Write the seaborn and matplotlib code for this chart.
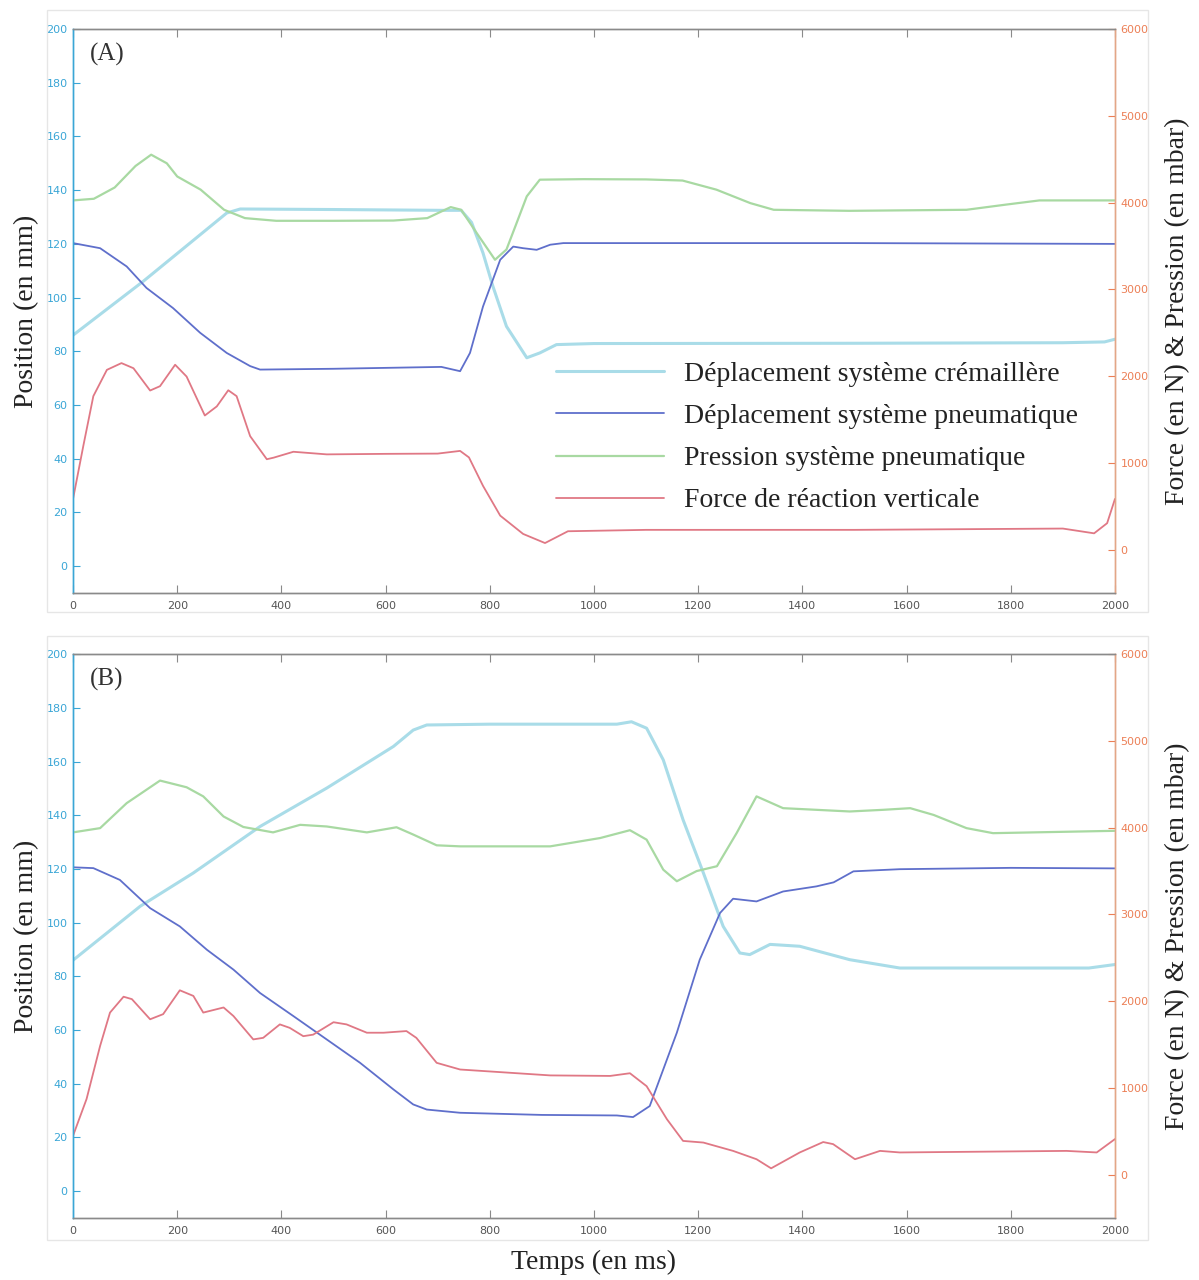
import matplotlib
matplotlib.use("Agg")
import matplotlib.pyplot as plt
import seaborn as sns
import pandas as pd
from matplotlib.patches import Rectangle

# ---------------- DATA ----------------
# Panel A
a_crem_t = [0, 135, 295, 321, 500, 707, 745, 765, 787, 806, 832, 871, 896, 928, 1000, 1500, 1900, 1980, 2000]
a_crem_v = [86, 106.1, 131.5, 133, 132.8, 132.5, 132.5, 128, 116.6, 104.2, 89.3, 77.6, 79.4, 82.5, 82.9, 83, 83.2, 83.5, 84.5]

a_pneu_t = [0, 52, 103, 141, 192, 244, 295, 340, 359, 500, 707, 743, 762, 787, 820, 845, 864, 890, 916, 941, 1500, 2000]
a_pneu_v = [120.3, 118.4, 111.6, 103.6, 96.1, 86.9, 79.4, 74.5, 73.2, 73.5, 74.2, 72.6, 79.4, 96.7, 114.1, 119, 118.4, 117.8, 119.7, 120.3, 120.3, 120]

a_pres_t = [0, 40, 80, 120, 150, 180, 200, 245, 290, 330, 390, 500, 615, 680, 725, 745, 775, 810, 832, 850, 871, 896,
            980, 1100, 1170, 1235, 1300, 1345, 1490, 1715, 1790, 1855, 2000]
a_pres_v = [4025, 4044, 4174, 4422, 4552, 4453, 4301, 4149, 3917, 3821, 3790, 3790, 3793, 3821, 3948, 3917, 3648, 3341,
            3459, 3741, 4072, 4264, 4270, 4267, 4254, 4149, 3994, 3917, 3905, 3917, 3976, 4025, 4025]

a_force_t = [0, 20, 39, 65, 93, 116, 148, 167, 196, 218, 253, 276, 298, 314, 340, 372, 385, 423, 487, 600, 700, 743,
             760, 787, 820, 864, 906, 950, 1100, 1500, 1900, 1960, 1985, 2000]
a_force_v = [584, 1203, 1769, 2072, 2150, 2091, 1834, 1884, 2131, 1995, 1546, 1651, 1837, 1769, 1308, 1042, 1060, 1128,
             1098, 1104, 1107, 1138, 1063, 735, 392, 181, 76, 212, 228, 228, 243, 188, 305, 584]

# Panel B
b_crem_t = [0, 129, 231, 359, 487, 615, 653, 679, 800, 1044, 1072, 1101, 1133, 1171, 1210, 1248, 1280, 1299, 1338,
            1395, 1491, 1587, 1950, 2000]
b_crem_v = [86, 106.1, 118.5, 135.8, 150.1, 165.6, 171.7, 173.6, 173.9, 173.9, 174.8, 172.4, 160.6, 138.3, 118.5,
            98.6, 88.7, 88.1, 91.9, 91.2, 86.2, 83.1, 83.1, 84.4]

b_pneu_t = [0, 39, 90, 148, 205, 257, 308, 359, 423, 487, 551, 615, 653, 679, 743, 900, 1044, 1075, 1107, 1159, 1203,
            1242, 1267, 1312, 1363, 1427, 1460, 1498, 1587, 1800, 2000]
b_pneu_v = [120.6, 120.3, 115.9, 105.4, 98.6, 89.9, 82.5, 73.8, 65.2, 56.5, 47.8, 37.9, 32.3, 30.4, 29.2, 28.4, 28.2,
            27.6, 31.7, 59, 86.2, 103.6, 108.9, 107.9, 111.6, 113.5, 115, 119.1, 119.9, 120.4, 120.2]

b_pres_t = [0, 52, 103, 167, 218, 250, 289, 327, 384, 436, 487, 564, 621, 653, 698, 743, 916, 1012, 1069, 1101, 1133,
            1159, 1197, 1236, 1274, 1312, 1363, 1491, 1555, 1607, 1652, 1715, 1766, 2000]
b_pres_v = [3945, 3994, 4282, 4542, 4465, 4360, 4128, 4007, 3945, 4032, 4013, 3945, 4004, 3920, 3796, 3784, 3784, 3880,
            3970, 3861, 3515, 3382, 3499, 3555, 3939, 4360, 4224, 4186, 4205, 4224, 4146, 3994, 3936, 3963]

b_force_t = [0, 26, 52, 71, 97, 113, 148, 173, 205, 231, 250, 289, 308, 346, 365, 397, 416, 442, 461, 500, 525, 564,
             596, 640, 659, 698, 743, 916, 1031, 1069, 1101, 1140, 1171, 1210, 1267, 1312, 1340, 1395, 1440, 1459, 1501,
             1549, 1587, 1907, 1965, 2000]
b_force_v = [448, 872, 1484, 1868, 2051, 2023, 1791, 1850, 2125, 2060, 1868, 1927, 1828, 1559, 1577, 1732, 1692, 1596,
             1614, 1757, 1732, 1636, 1636, 1655, 1577, 1289, 1212, 1144, 1138, 1169, 1020, 639, 389, 370, 274, 178, 73,
             256, 376, 352, 178, 274, 256, 274, 256, 410]

labels = ["Déplacement système crémaillère", "Déplacement système pneumatique",
          "Pression système pneumatique", "Force de réaction verticale"]
panel_names = ["(A)", "(B)"]
x_ticks = list(range(0, 2001, 200))
left_ticks = list(range(0, 201, 20))
right_ticks = list(range(0, 6001, 1000))

# ---------------- STYLE ----------------
sns.set_theme(style="white")
plt.rcParams['font.family'] = ['DejaVu Sans']
SERIF = ['Liberation Serif', 'DejaVu Serif']

C_CREM = "#a9dce8"
C_PNEU = "#5f6fcb"
C_PRES = "#a8d9a2"
C_FORCE = "#e07885"
C_LEFT = "#3aa6d6"
C_RIGHT = "#ec7f55"
C_GRAY = "#8a8a8a"

fig = plt.figure(figsize=(11.99, 12.80), dpi=100)

# light panel frames
for (y0, y1) in [(10, 612), (636, 1240)]:
    fig.patches.append(Rectangle((47 / 1199, 1 - y1 / 1280), (1148 - 47) / 1199, (y1 - y0) / 1280,
                                 transform=fig.transFigure, fill=False, edgecolor="#e6e6e6", lw=1.0, zorder=0))

positions = [[0.0609, 0.5367, 0.8690, 0.4406], [0.0609, 0.0484, 0.8690, 0.4406]]
datasets = [
    (a_crem_t, a_crem_v, a_pneu_t, a_pneu_v, a_pres_t, a_pres_v, a_force_t, a_force_v),
    (b_crem_t, b_crem_v, b_pneu_t, b_pneu_v, b_pres_t, b_pres_v, b_force_t, b_force_v),
]

legend_handles = None
for i, (pos, d) in enumerate(zip(positions, datasets)):
    ax = fig.add_axes(pos)
    ax2 = ax.twinx()
    ct, cv, pt, pv, rt, rv, ft, fv = d
    sns.lineplot(x=ct, y=cv, ax=ax, color=C_CREM, lw=2.2, label=labels[0], legend=False)
    sns.lineplot(x=pt, y=pv, ax=ax, color=C_PNEU, lw=1.3, label=labels[1], legend=False)
    sns.lineplot(x=rt, y=rv, ax=ax2, color=C_PRES, lw=1.6, label=labels[2], legend=False)
    sns.lineplot(x=ft, y=fv, ax=ax2, color=C_FORCE, lw=1.3, label=labels[3], legend=False)

    ax.set_xlim(0, 2000)
    ax.set_ylim(-10, 200)
    ax2.set_ylim(-500, 6000)
    ax.set_xticks(x_ticks)
    ax.set_yticks(left_ticks)
    ax2.set_yticks(right_ticks)
    ax.tick_params(axis='x', direction='in', length=6, width=0.8, colors=C_GRAY, labelcolor="#555555",
                   labelsize=8, top=True, bottom=True, pad=6)
    ax.tick_params(axis='y', direction='in', length=5, width=0.8, colors=C_LEFT, labelcolor=C_LEFT,
                   labelsize=8, left=True, pad=4)
    ax2.tick_params(axis='y', direction='in', length=5, width=0.8, colors=C_RIGHT, labelcolor=C_RIGHT,
                    labelsize=8, right=True, pad=4)
    for axx in (ax, ax2):
        axx.spines['top'].set_color(C_GRAY)
        axx.spines['bottom'].set_color(C_GRAY)
        axx.spines['left'].set_color(C_LEFT)
        axx.spines['right'].set_color("#e3a687")
        for s in axx.spines.values():
            s.set_linewidth(1.0)
    ax.set_xlabel("")
    ax2.set_xlabel("")
    ax.set_ylabel("Position (en mm)", family=SERIF, fontsize=20, color="#222222", labelpad=5)
    ax2.set_ylabel("Force (en N) & Pression (en mbar)", family=SERIF, fontsize=20, color="#222222", labelpad=12)
    ax.text(0.016, 0.975, panel_names[i], transform=ax.transAxes, family=SERIF, fontsize=18,
            color="#333333", va='top', ha='left')
    if i == 1:
        ax.set_xlabel("Temps (en ms)", family=SERIF, fontsize=20, color="#222222", labelpad=10)
    if legend_handles is None:
        h1, l1 = ax.get_legend_handles_labels()
        h2, l2 = ax2.get_legend_handles_labels()
        legend_handles = (h1 + h2, l1 + l2)
        leg = ax2.legend(legend_handles[0], legend_handles[1], loc='upper left',
                         bbox_to_anchor=(0.453, 0.43), frameon=False, handlelength=3.9,
                         handletextpad=0.7, labelspacing=0.6, borderaxespad=0,
                         prop={'family': SERIF, 'size': 20})
        for t in leg.get_texts():
            t.set_color("#222222")

fig.savefig("out.png", dpi=100)
